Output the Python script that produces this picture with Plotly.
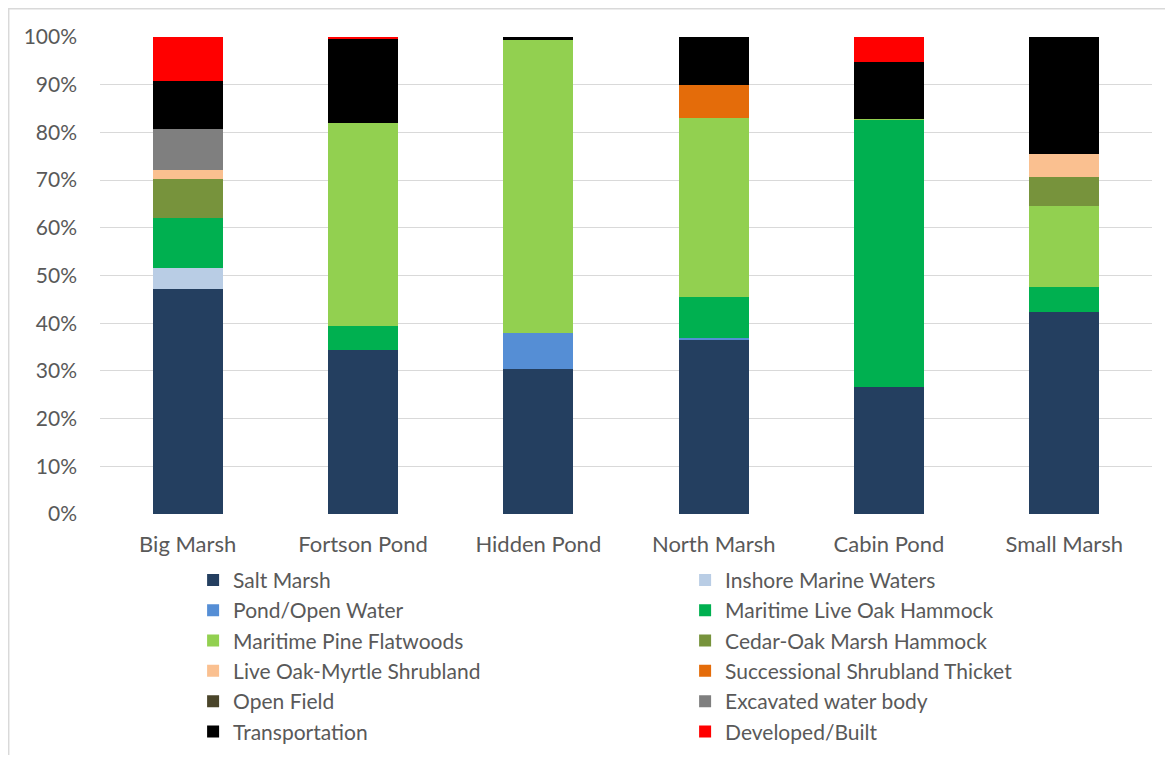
import plotly.graph_objects as go

sites = ["Big Marsh", "Fortson Pond", "Hidden Pond", "North Marsh", "Cabin Pond", "Small Marsh"]

salt_marsh = [47.2, 34.5, 30.5, 36.5, 26.7, 42.3]
inshore_marine_waters = [4.4, 0, 0, 0, 0, 0]
pond_open_water = [0, 0, 7.5, 0.3, 0, 0]
maritime_live_oak_hammock = [10.4, 5.0, 0, 8.7, 56.0, 5.2]
maritime_pine_flatwoods = [0, 42.5, 61.3, 37.6, 0.2, 17.1]
cedar_oak_marsh_hammock = [8.3, 0, 0, 0, 0, 6.0]
live_oak_myrtle_shrubland = [1.9, 0, 0, 0, 0, 4.9]
successional_shrubland_thicket = [0, 0, 0, 6.8, 0, 0]
open_field = [0, 0, 0, 0, 0, 0]
excavated_water_body = [8.5, 0, 0, 0, 0, 0]
transportation = [10.1, 17.8, 0.7, 10.1, 11.9, 24.5]
developed_built = [9.2, 0.25, 0, 0, 5.2, 0]

series = [
    ("Salt Marsh", salt_marsh, "#243F60"),
    ("Inshore Marine Waters", inshore_marine_waters, "#B9CDE5"),
    ("Pond/Open Water", pond_open_water, "#558ED5"),
    ("Maritime Live Oak Hammock", maritime_live_oak_hammock, "#00B050"),
    ("Maritime Pine Flatwoods", maritime_pine_flatwoods, "#92D050"),
    ("Cedar-Oak Marsh Hammock", cedar_oak_marsh_hammock, "#77933C"),
    ("Live Oak-Myrtle Shrubland", live_oak_myrtle_shrubland, "#FAC090"),
    ("Successional Shrubland Thicket", successional_shrubland_thicket, "#E46C0A"),
    ("Open Field", open_field, "#4A452A"),
    ("Excavated water body", excavated_water_body, "#7F7F7F"),
    ("Transportation", transportation, "#000000"),
    ("Developed/Built", developed_built, "#FF0000"),
]

fig = go.Figure()
for name, vals, color in series:
    fig.add_trace(go.Bar(
        x=sites, y=vals, name=name,
        marker=dict(color=color, line=dict(width=0)),
    ))

font_family = "Lato, 'Open Sans', sans-serif"
fig.update_layout(
    barmode="stack",
    barnorm="percent",
    bargap=0.6,
    width=1157, height=747,
    margin=dict(l=92, r=13, t=29, b=241, autoexpand=False),
    paper_bgcolor="white",
    plot_bgcolor="white",
    font=dict(family=font_family, size=22, color="#595959"),
    yaxis=dict(
        range=[0, 100],
        tickvals=[0, 10, 20, 30, 40, 50, 60, 70, 80, 90, 100],
        ticktext=["0%", "10%", "20%", "30%", "40%", "50%", "60%", "70%", "80%", "90%", "100%"],
        tickfont=dict(size=21),
        showgrid=True, gridcolor="#D9D9D9", gridwidth=1.3,
        zeroline=False, showline=False,
        ticks="", ticklabelstandoff=22,
    ),
    xaxis=dict(
        showgrid=False, showline=False, zeroline=False,
        ticks="", ticklabelstandoff=15,
    ),
    legend=dict(
        orientation="h",
        traceorder="normal",
        x=0.0885, xanchor="left",
        y=-0.096, yanchor="top",
        entrywidth=447, entrywidthmode="pixels",
        font=dict(family=font_family, size=21, color="#595959"),
        itemwidth=30,
    ),
    shapes=[dict(
        type="rect", xref="paper", yref="paper",
        x0=-0.0868, x1=1.1, y0=-0.6, y1=1.059,
        line=dict(color="#D9D9D9", width=1.5),
    )],
)

fig.write_html("out.html")
